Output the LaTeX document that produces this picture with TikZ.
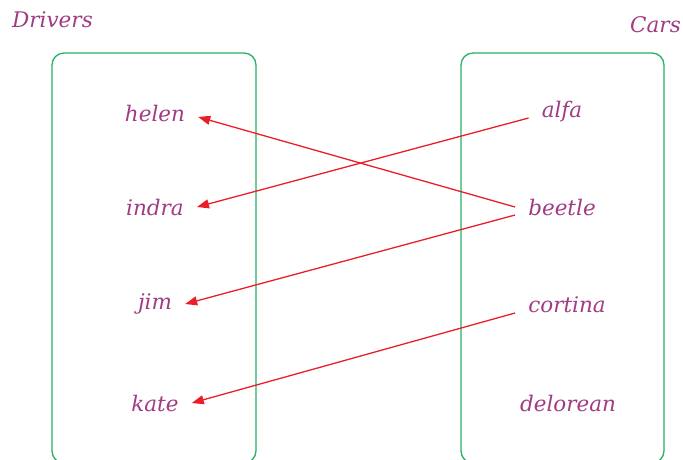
\documentclass[tikz,border=0pt]{standalone}
\usepackage{fontspec}
\setmainfont{DejaVu Serif}
\usetikzlibrary{arrows.meta, positioning}
\definecolor{cPurple}{RGB}{160,60,130}
\definecolor{cGreen}{RGB}{40,175,100}
\definecolor{cRed}{RGB}{235,30,40}
\tikzset{
  %% set boxes
  setbox/.style={draw=cGreen, line width=1.3pt, rounded corners=12pt},
  %% element labels
  elem/.style={text=cPurple, font=\itshape\fontsize{21.5}{24}\selectfont,
               inner xsep=13pt, inner ysep=3pt},
  settitle/.style={elem, inner sep=0pt},
  %% mapping arrows
  maparrow/.style={-{Triangle[length=12pt, width=9pt]}, draw=cRed, line width=1.3pt},
}
\begin{document}
\begin{tikzpicture}[x=1pt, y=-1pt]

%% ============================================================
%%  Canvas (pixel units, y down)
%% ============================================================
\clip (0,0) rectangle (683,459);

%% ----- Set boxes -----
\draw[setbox] (52,53) rectangle (256,463);
\draw[setbox] (461,53) rectangle (664,463);

%% ----- Titles -----
\node[settitle, anchor=west] (drivers) at (12,20) {Drivers};
\node[settitle, anchor=east] (cars)    at (681,25) {Cars};

%% ============================================================
%%  Drivers
%% ============================================================
\node[elem] (helen) at (155,113) {helen};
\node[elem] (indra) at (155,207) {indra};
\node[elem] (jim)   at (155,304) {jim};
\node[elem] (kate)  at (155,403) {kate};

%% ============================================================
%%  Cars
%% ============================================================
\node[elem] (alfa)     at (562,112) {alfa};
\node[elem] (beetle)   at (562,207) {beetle};
\node[elem] (cortina)  at (567,305) {cortina};
\node[elem] (delorean) at (568,403) {delorean};

%% ============================================================
%%  Mapping
%% ============================================================
\draw[maparrow] ([yshift=-6pt]alfa.west)    -- (indra.east);
\draw[maparrow] (beetle.west)               -- ([yshift=-4pt]helen.east);
\draw[maparrow] ([yshift=-8pt]beetle.west)  -- (jim.east);
\draw[maparrow] ([yshift=-8pt]cortina.west) -- (kate.east);

\end{tikzpicture}
\end{document}
